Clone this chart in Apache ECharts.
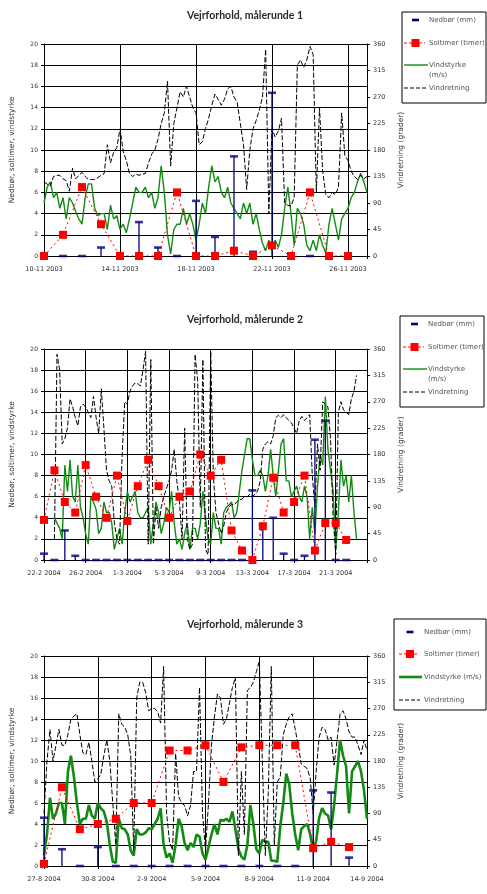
<!DOCTYPE html>
<html><head><meta charset="utf-8">
<script src="https://cdn.jsdelivr.net/npm/echarts@6/dist/echarts.min.js"></script>
<style>html,body{margin:0;padding:0;background:#fff}#c{width:487px;height:894px}</style>
</head><body><div id="c"></div>
<script>
// ---------- Data ----------
// Panel 1: 10-11-2003 .. 27-11-2003 ; daily values at midnight, wind every 4 h
const p1Ticks = ['10-11 2003','14-11 2003','18-11 2003','22-11 2003','26-11 2003'];
const p1Nedbor = [0,0,0,0.8,0,3.2,0.8,0,5.2,1.8,9.4,0.4,15.4,0,0,0,0];
const p1Sol = [0,2,6.5,3,0,0,0,6,0,0,0.5,0,1,0,6,0,0];
const p1Wind = [5.0,6.5,7.0,5.5,6.0,4.5,5.5,3.5,5.5,5.0,
  4.2,3.5,3.0,5.5,6.8,6.8,4.5,3.8,4.0,4.0,
  2.5,4.8,3.5,3.8,2.5,3.0,2.2,3.5,5.0,6.5,
  6.0,6.0,6.5,5.5,6.0,4.5,5.5,8.5,6.0,2.0,
  0.2,2.5,3.0,3.0,4.5,3.0,4.0,3.0,1.5,3.0,
  5.0,4.0,6.5,8.5,7.0,7.5,6.0,5.5,6.5,5.0,
  4.5,4.0,3.5,5.0,4.0,5.0,3.0,4.0,2.5,1.2,
  0.5,1.5,0.5,1.5,0.8,2.0,4.5,6.5,4.0,1.0,
  4.5,4.0,3.0,1.0,0.5,1.5,0.5,2.0,1.0,0.3,
  3.0,4.5,3.0,1.5,3.5,4.0,4.5,5.5,6.0,7.0,
  7.8,7.0,6.0];
const p1Dir = [126,122,119,135,137,137,131,128,110,149,
  131,137,142,135,130,130,130,133,137,140,
  189,158,176,184,216,178,162,140,135,139,
  137,139,140,158,173,180,198,225,243,297,
  153,225,252,279,270,288,270,252,243,189,
  194,216,234,256,275,266,256,266,284,288,
  270,261,225,189,113,180,216,230,248,270,
  351,72,216,202,212,234,90,86,85,99,
  324,333,320,333,356,342,108,252,144,104,
  99,108,104,117,243,171,162,144,135,130,
  137,131,135];

// Panel 2: 22-2-2004 .. 24-3-2004 ; wind every 6 h
const p2Ticks = ['22-2 2004','26-2 2004','1-3 2004','5-3 2004','9-3 2004','13-3 2004','17-3 2004','21-3 2004'];
const p2Nedbor = [0.6,0,2.8,0.4,0,0,0,0,0,0,0,0,0,0,0,0,0,0,0,0,6.6,3.4,4.0,0.6,0,0.4,11.4,13.2,0,0];
const p2Sol = [3.8,8.5,5.5,4.5,9.0,6.0,4.0,8.0,3.7,7.0,9.5,7.0,4.0,6.0,6.5,10.0,8.0,9.5,2.8,0.9,0,3.2,7.8,4.5,5.5,8.0,0.9,3.5,3.5,1.9];
const p2Wind = [null,null,null,null,
  4.0,3.5,3.0,2.0,9.0,6.5,9.5,6.0,5.5,9.0,
  5.0,4.0,2.5,1.5,6.0,5.5,4.8,2.5,3.0,5.5,
  4.5,4.5,3.5,1.0,2.0,3.0,1.5,4.5,6.5,5.5,
  6.0,6.5,4.5,4.0,4.0,4.5,5.0,1.5,3.5,5.5,
  4.5,2.5,3.5,5.0,4.5,6.5,3.5,1.5,2.0,1.0,
  2.5,3.5,1.0,3.0,3.0,2.0,3.5,6.5,4.0,2.0,
  1.5,4.5,3.0,3.0,1.5,4.5,5.0,5.2,5.5,4.0,
  4.5,6.5,8.5,10.0,11.5,11.5,9.5,8.0,8.0,8.5,
  8.0,6.5,8.0,10.5,8.0,6.0,8.5,11.0,11.5,7.5,
  7.5,6.0,6.5,7.0,6.0,5.5,7.0,6.0,2.0,5.0,
  2.5,7.0,10.0,9.0,15.5,10.5,8.5,6.5,1.0,4.5,
  9.5,7.0,8.0,5.5,8.0,4.5,2.0];
const p2Dir = [null,null,null,null,
  36,351,324,198,207,225,275,261,243,229,
  261,266,261,252,243,279,243,216,292,225,
  153,135,126,63,36,27,180,270,266,288,
  297,302,301,297,324,356,27,342,27,90,
  54,90,108,122,135,153,189,135,99,36,
  225,36,18,27,351,306,90,342,18,9,
  356,144,81,63,45,58,81,90,95,94,
  99,103,104,108,108,112,108,112,117,135,
  189,198,202,198,212,243,247,243,248,243,
  238,234,225,216,238,245,238,243,248,144,
  90,198,153,270,266,261,207,72,9,252,
  270,256,252,248,275,288,315];

// Panel 3: 27-8-2004 .. 14-9-2004 ; wind every 4 h
const p3Ticks = ['27-8 2004','30-8 2004','2-9 2004','5-9 2004','8-9 2004','11-9 2004','14-9 2004'];
const p3Nedbor = [4.6,1.6,0,1.8,0,0,0,0,0,0,0,0,0,0,0,7.2,7.0,0.8];
const p3Sol = [0.2,7.5,3.5,4.0,4.5,6.0,6.0,11.0,11.0,11.5,8.0,11.3,11.5,11.5,11.5,1.7,2.3,1.8];
const p3Wind = [1.0,3.0,6.5,4.5,5.0,6.0,6.0,4.0,9.0,10.5,
  8.5,6.0,4.0,4.5,4.5,5.8,4.8,4.5,6.0,5.5,
  5.2,4.2,2.0,0.4,0.3,4.5,3.6,3.5,3.0,1.5,
  1.0,3.5,3.0,3.0,3.2,3.6,3.5,4.0,4.5,5.5,
  2.0,0.8,1.2,0.3,2.0,4.5,3.8,2.2,1.5,2.2,
  1.8,3.0,2.8,1.2,0.6,1.8,3.0,4.0,3.0,4.4,
  4.3,4.5,4.2,5.2,3.5,1.6,0.9,0.6,2.0,5.8,
  4.0,1.6,1.2,2.5,2.3,2.3,0.5,0.5,0.4,3.8,
  6.0,8.8,7.8,5.0,3.0,1.5,3.5,3.8,4.0,3.0,
  1.5,2.4,4.6,5.5,5.0,4.8,3.5,5.8,8.8,12.0,
  10.5,9.5,5.0,9.0,9.5,10.0,9.0,7.2,4.5];
const p3Dir = [90,180,234,180,207,234,207,207,225,252,
  257,261,225,194,191,212,180,144,149,158,
  189,216,180,108,36,261,243,238,225,189,
  27,288,315,315,297,266,270,270,265,245,
  342,90,40,27,193,119,108,104,86,104,
  162,162,306,90,27,108,207,256,295,288,
  243,252,279,306,324,18,162,54,301,306,
  315,333,351,180,18,126,342,36,144,153,
  225,243,256,261,234,207,175,171,167,151,
  90,162,221,238,234,216,221,173,216,261,
  266,252,230,221,221,207,191,216,198];

const seriesNames = ['Nedbør (mm)','Soltimer (timer)','Vindstyrke (m/s)','Vindretning'];

// ---------- Layout / style ----------
const FONT = 'DejaVu Sans';
const TFONT = 'Lato';
const TXT = '#333';
const panels = [
  {title:'Vejrforhold, målerunde 1', titleTop:5, grid:{left:36,top:44,width:331,height:212},
   days:17, tickStep:4, ticks:p1Ticks, nedbor:p1Nedbor, sol:p1Sol, wind:p1Wind, dir:p1Dir, step:1/6,
   windColor:'#138c13', windWidth:1.4,
   leg:{x:402,y:12,w:84,h:91,i0:404,i1:427,tx:429,rows:[20,43,65,88],two:true}},
  {title:'Vejrforhold, målerunde 2', titleTop:309, grid:{left:36,top:349,width:331,height:211},
   days:31, tickStep:4, ticks:p2Ticks, nedbor:p2Nedbor, sol:p2Sol, wind:p2Wind, dir:p2Dir, step:1/4,
   windColor:'#138c13', windWidth:1.4,
   leg:{x:400,y:316,w:84,h:91,i0:403,i1:426,tx:428,rows:[324,347,369,392],two:true}},
  {title:'Vejrforhold, målerunde 3', titleTop:614, grid:{left:35,top:656,width:332,height:210},
   days:18, tickStep:3, ticks:p3Ticks, nedbor:p3Nedbor, sol:p3Sol, wind:p3Wind, dir:p3Dir, step:1/6,
   windColor:'#138a13', windWidth:2.6,
   leg:{x:394,y:619,w:92,h:91,i0:399,i1:421,tx:424,rows:[632,654,677,700],two:false}}
];

const option = {animation:false, backgroundColor:'#fff', title:[], grid:[], xAxis:[], yAxis:[], series:[], graphic:[]};

function pairs(arr, step){ const out=[]; arr.forEach((v,i)=>{ if(v!==null) out.push([i*step, v]); }); return out; }

panels.forEach((p, g) => {
  option.title.push({text:p.title, left:240, top:p.titleTop, textAlign:'center',
    textStyle:{fontFamily:TFONT, fontSize:10.5, fontWeight:'bold', color:'#2a2a2a'}});
  option.grid.push(Object.assign({containLabel:false}, p.grid));
  option.xAxis.push({type:'value', gridIndex:g, min:0, max:p.days, interval:p.tickStep,
    axisLine:{show:true, onZero:false, lineStyle:{color:'#000', width:1}},
    axisTick:{show:true, length:3, lineStyle:{color:'#000'}},
    axisLabel:{fontFamily:FONT, fontSize:6.5, color:TXT, margin:10, showMaxLabel:true,
      formatter:(v)=>{ const k=Math.round(v/p.tickStep); return Math.abs(k*p.tickStep-v)<1e-6 && p.ticks[k] ? p.ticks[k] : ''; }},
    splitLine:{show:true, lineStyle:{color:'#000', width:1}}});
  option.yAxis.push({type:'value', gridIndex:g, min:0, max:20, interval:2, position:'left',
    name:'Nedbør, soltimer, vindstyrke', nameLocation:'middle', nameGap:28, nameRotate:90,
    nameTextStyle:{fontFamily:FONT, fontSize:7.5, color:TXT},
    axisLine:{show:true, lineStyle:{color:'#000', width:1}},
    axisTick:{show:true, length:3, lineStyle:{color:'#000'}},
    axisLabel:{fontFamily:FONT, fontSize:6, color:TXT, margin:6},
    splitLine:{show:true, lineStyle:{color:'#000', width:1}}});
  option.yAxis.push({type:'value', gridIndex:g, min:0, max:360, interval:45, position:'right',
    name:'Vindretning (grader)', nameLocation:'middle', nameGap:30, nameRotate:90,
    nameTextStyle:{fontFamily:FONT, fontSize:7.5, color:TXT},
    axisLine:{show:true, lineStyle:{color:'#000', width:1}},
    axisTick:{show:true, length:3, lineStyle:{color:'#000'}},
    axisLabel:{fontFamily:FONT, fontSize:6.5, color:TXT, margin:6},
    splitLine:{show:false}});
  const yl = g*2, yr = g*2+1;
  option.series.push({name:seriesNames[2], type:'line', xAxisIndex:g, yAxisIndex:yl, symbol:'none',
    data:pairs(p.wind, p.step), lineStyle:{color:p.windColor, width:p.windWidth}, z:2});
  option.series.push({name:seriesNames[3], type:'line', xAxisIndex:g, yAxisIndex:yr, symbol:'none',
    data:pairs(p.dir, p.step), lineStyle:{color:'#000', width:1, type:[5,2]}, z:3});
  option.series.push({name:seriesNames[0]+' ', type:'bar', xAxisIndex:g, yAxisIndex:yl, barWidth:1.3,
    data:pairs(p.nedbor, 1), itemStyle:{color:'#000080'}, z:4});
  option.series.push({name:seriesNames[0], type:'scatter', xAxisIndex:g, yAxisIndex:yl, symbol:'rect',
    symbolSize:[8,2.6], data:pairs(p.nedbor, 1), itemStyle:{color:'#000080'}, z:5});
  option.series.push({name:seriesNames[1], type:'line', xAxisIndex:g, yAxisIndex:yl, symbol:'rect',
    symbolSize:8, data:pairs(p.sol, 1), itemStyle:{color:'#ff0000'},
    lineStyle:{color:'#ff0000', width:1, type:[2,3]}, z:6});

  // legend box (drawn as graphic for exact key placement)
  const L = p.leg, tf = {fontFamily:FONT, fontSize:7, fill:'#555', verticalAlign:'middle'};
  const cx = (L.i0+L.i1)/2;
  option.graphic.push({type:'rect', shape:{x:L.x, y:L.y, width:L.w, height:L.h}, style:{fill:'#fff', stroke:'#000', lineWidth:1}, z:10});
  option.graphic.push({type:'rect', shape:{x:cx-3.5, y:L.rows[0]-1.3, width:7, height:2.6}, style:{fill:'#000080'}, z:11});
  option.graphic.push({type:'text', x:L.tx, y:L.rows[0], style:Object.assign({text:seriesNames[0]}, tf), z:11});
  option.graphic.push({type:'line', shape:{x1:L.i0, y1:L.rows[1], x2:L.i1-2, y2:L.rows[1]}, style:{stroke:'#ff0000', lineWidth:1, lineDash:[3,2]}, z:11});
  option.graphic.push({type:'rect', shape:{x:cx-4, y:L.rows[1]-4, width:8, height:8}, style:{fill:'#ff0000'}, z:12});
  option.graphic.push({type:'text', x:L.tx, y:L.rows[1], style:Object.assign({text:seriesNames[1]}, tf), z:11});
  option.graphic.push({type:'line', shape:{x1:L.i0, y1:L.rows[2], x2:L.i1+1, y2:L.rows[2]}, style:{stroke:p.windColor, lineWidth:p.windWidth}, z:11});
  if (L.two) {
    option.graphic.push({type:'text', x:L.tx, y:L.rows[2], style:Object.assign({text:'Vindstyrke'}, tf), z:11});
    option.graphic.push({type:'text', x:L.tx, y:L.rows[2]+10, style:Object.assign({text:'(m/s)'}, tf), z:11});
  } else {
    option.graphic.push({type:'text', x:L.tx, y:L.rows[2], style:Object.assign({text:seriesNames[2]}, tf), z:11});
  }
  option.graphic.push({type:'line', shape:{x1:L.i0, y1:L.rows[3], x2:L.i1-1, y2:L.rows[3]}, style:{stroke:'#000', lineWidth:1, lineDash:[4,2]}, z:11});
  option.graphic.push({type:'text', x:L.tx, y:L.rows[3], style:Object.assign({text:seriesNames[3]}, tf), z:11});
});

const chart = echarts.init(document.getElementById('c'), null, {renderer:'canvas'});
chart.setOption(option);
</script>
</body></html>
